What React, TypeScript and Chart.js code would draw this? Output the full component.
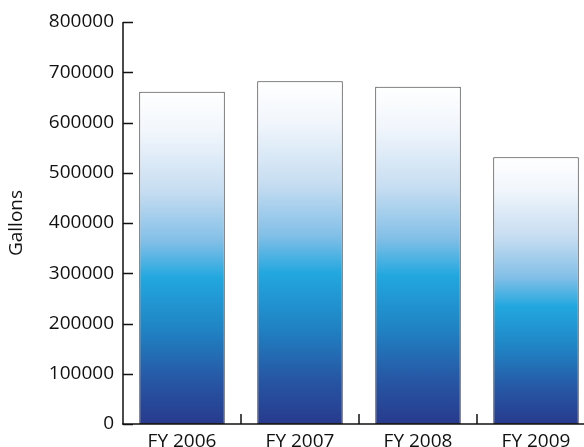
import React, { useEffect, useRef } from "react";
import { Chart, registerables } from "chart.js";

Chart.register(...registerables);

const categories = ["FY 2006", "FY 2007", "FY 2008", "FY 2009"];
const gallons = [661000, 682000, 671000, 531000];
const yTicks = [0, 100000, 200000, 300000, 400000, 500000, 600000, 700000, 800000];
const axisTitle = "Gallons";

const FONT = "'Open Sans', 'DejaVu Sans', sans-serif";
const INK = "#111111";

const gradientStops: [number, string][] = [
  [0, "#ffffff"],
  [0.12, "#f1f6fc"],
  [0.3, "#c6ddf1"],
  [0.45, "#82bfe7"],
  [0.56, "#22a7df"],
  [0.72, "#2082c3"],
  [0.86, "#2659a6"],
  [1, "#283a8d"],
];

const axesPlugin = {
  id: "customAxes",
  afterDatasetsDraw(chart: any) {
    const { ctx, chartArea, scales } = chart;
    const x = scales.x;
    const y = scales.y;
    ctx.save();
    ctx.strokeStyle = INK;
    ctx.lineWidth = 1.5;
    const left = chartArea.left;
    const bottom = y.getPixelForValue(0);
    const topV = y.getPixelForValue(yTicks[yTicks.length - 1]);
    ctx.beginPath();
    ctx.moveTo(left, topV);
    ctx.lineTo(left, bottom);
    ctx.moveTo(left - 1, bottom);
    ctx.lineTo(chart.width, bottom);
    yTicks.forEach((v) => {
      const py = Math.round(y.getPixelForValue(v)) + 0.5;
      ctx.moveTo(left, py);
      ctx.lineTo(left + 10, py);
    });
    for (let i = 1; i <= categories.length; i++) {
      const px =
        i < categories.length
          ? (x.getPixelForValue(i - 1) + x.getPixelForValue(i)) / 2
          : x.getPixelForValue(i - 1) * 1.5 - x.getPixelForValue(i - 2) * 0.5;
      ctx.moveTo(px, bottom);
      ctx.lineTo(px, bottom - 10);
    }
    ctx.stroke();
    ctx.restore();
  },
};

export default function App() {
  const ref = useRef<HTMLCanvasElement | null>(null);
  useEffect(() => {
    if (!ref.current) return;
    const chart = new Chart(ref.current, {
      type: "bar",
      data: {
        labels: categories,
        datasets: [
          {
            label: axisTitle,
            data: gallons,
            borderColor: "#3a3a3a",
            borderWidth: 1,
            borderSkipped: false,
            categoryPercentage: 1,
            barPercentage: 0.725,
            backgroundColor: (c: any) => {
              const chart = c.chart;
              if (!chart.chartArea || c.raw == null) return "#22a7df";
              const ys = chart.scales.y;
              const top = ys.getPixelForValue(c.raw);
              const base = ys.getPixelForValue(0);
              const g = chart.ctx.createLinearGradient(0, top, 0, base);
              gradientStops.forEach(([o, col]) => g.addColorStop(o, col));
              return g;
            },
          },
        ],
      },
      options: {
        responsive: false,
        animation: false,
        layout: { padding: { top: 22, right: 5, left: 0, bottom: 0 } },
        plugins: { legend: { display: false }, tooltip: { enabled: false } },
        scales: {
          x: {
            grid: { display: false },
            border: { display: false },
            ticks: {
              color: INK,
              font: { family: FONT, size: 19 },
              padding: -2,
              maxRotation: 0,
            },
            afterFit: (s: any) => {
              s.height = 23;
            },
          },
          y: {
            min: 0,
            max: 800000,
            grid: { display: false },
            border: { display: false },
            afterBuildTicks: (s: any) => {
              s.ticks = yTicks.map((v) => ({ value: v }));
            },
            ticks: {
              color: INK,
              font: { family: FONT, size: 19 },
              padding: 1,
              callback: (v: any) => String(v),
            },
            title: {
              display: true,
              text: axisTitle,
              color: INK,
              font: { family: FONT, size: 19 },
              padding: { top: 5, bottom: 0 },
            },
            afterFit: (s: any) => {
              s.width = 123;
            },
          },
        },
      },
      plugins: [axesPlugin],
    });
    return () => chart.destroy();
  }, []);
  return (
    <div
      style={{
        position: "fixed",
        left: 0,
        top: 0,
        width: "584px",
        height: "447px",
        overflow: "hidden",
        background: "#fff",
      }}
    >
      <canvas ref={ref} width={600} height={447} style={{ display: "block" }} />
    </div>
  );
}
